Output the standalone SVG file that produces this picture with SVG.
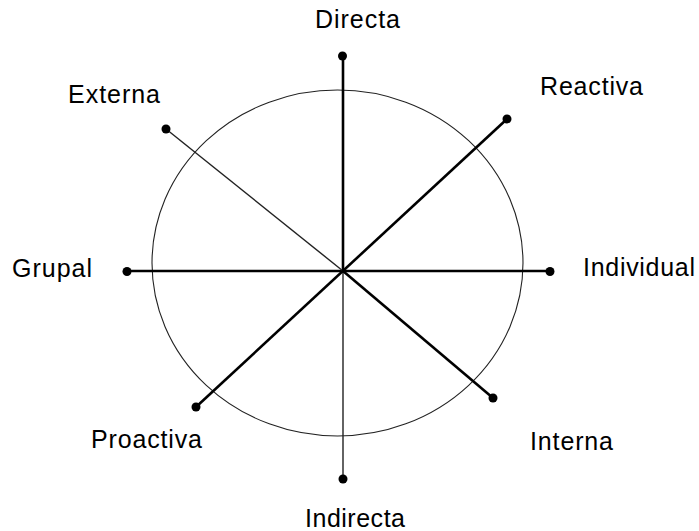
<svg xmlns="http://www.w3.org/2000/svg" width="699" height="531" viewBox="0 0 699 531">
<style>
text{font-family:"Liberation Sans",Arial,sans-serif;font-size:25px;fill:#000}
.thick{stroke:#000;stroke-width:2.6;fill:none}
.thin{stroke:#222;stroke-width:1.4;fill:none}
.dot{fill:#000}
</style>
<rect width="699" height="531" fill="#fff"/>
<ellipse cx="337.5" cy="263" rx="185.5" ry="173" fill="none" stroke="#222" stroke-width="1.1"/>
<g id="connectors">
<line class="thick" x1="343" y1="56" x2="343" y2="271"/>
<line class="thin" x1="343" y1="271" x2="343" y2="479"/>
<line class="thick" x1="127" y1="271" x2="550" y2="271"/>
<line class="thin" x1="166" y1="129" x2="343" y2="271"/>
<line class="thick" x1="343" y1="271" x2="493" y2="398"/>
<line class="thick" x1="507" y1="119" x2="196" y2="407"/>
</g>
<g id="directa"><circle class="dot" cx="342.5" cy="56" r="4.5"/><text x="315" y="28" textLength="85" lengthAdjust="spacing">Directa</text></g>
<g id="indirecta"><circle class="dot" cx="343" cy="479" r="4.5"/><text x="305" y="527" textLength="100" lengthAdjust="spacing">Indirecta</text></g>
<g id="grupal"><circle class="dot" cx="127" cy="271.5" r="4.5"/><text x="12" y="277" textLength="80" lengthAdjust="spacing">Grupal</text></g>
<g id="individual"><circle class="dot" cx="550" cy="271.5" r="4.5"/><text x="583" y="276" textLength="112" lengthAdjust="spacing">Individual</text></g>
<g id="externa"><circle class="dot" cx="166" cy="129" r="4.5"/><text x="68" y="103" textLength="92" lengthAdjust="spacing">Externa</text></g>
<g id="interna"><circle class="dot" cx="493" cy="398" r="4.5"/><text x="530" y="450" textLength="83" lengthAdjust="spacing">Interna</text></g>
<g id="reactiva"><circle class="dot" cx="507" cy="119" r="4.5"/><text x="540" y="95" textLength="103" lengthAdjust="spacing">Reactiva</text></g>
<g id="proactiva"><circle class="dot" cx="196" cy="407" r="4.5"/><text x="91" y="448" textLength="111" lengthAdjust="spacing">Proactiva</text></g>
</svg>
